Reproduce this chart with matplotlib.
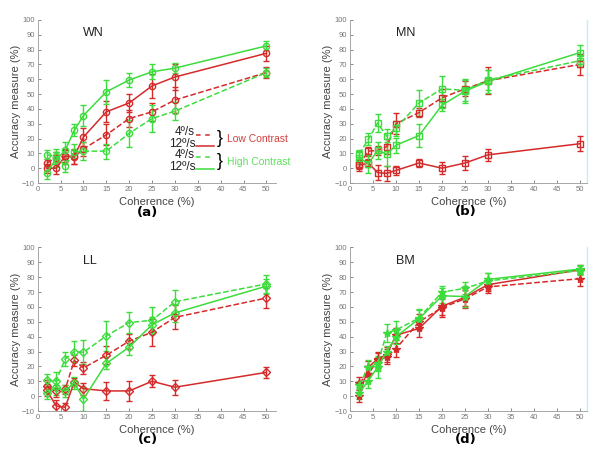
import numpy as np
import matplotlib
matplotlib.use("Agg")
from matplotlib import pyplot as plt

coh = [2, 4, 6, 8, 10, 15, 20, 25, 30, 50]

# panel (a) WN
wn_low4 = [3.5, 7, 8, 7.5, 13, 22.5, 33.5, 38, 46, 64.5]
wn_low4_err = [3, 4, 5, 5, 5, 7, 6, 6, 9, 4]
wn_low12 = [0, 0, 8, 8, 21, 38, 44, 55.5, 61.5, 77.5]
wn_low12_err = [3, 4, 4, 5, 6, 7, 6, 8, 9, 5]
wn_high4 = [9, 8, 1.5, 11, 11.5, 11.5, 23.5, 33.5, 38.5, 64.5]
wn_high4_err = [3, 5, 4, 5, 6, 5, 9, 9, 6, 3]
wn_high12 = [-3, 6, 12, 25.5, 35.5, 51.5, 59.5, 65, 67.5, 82.5]
wn_high12_err = [4, 5, 6, 4, 7, 8, 5, 5, 3.5, 3]

# panel (b) MN
mn_low4 = [2.5, 11.5, 12, 14.5, 30, 37.5, 47.5, 53.5, 59, 70]
mn_low4_err = [3, 3, 3, 5, 7, 3, 6, 5, 9, 7]
mn_low12 = [2, 3.5, -3, -3.5, -1.5, 3.5, 0, 3.5, 9, 16.5]
mn_low12_err = [4, 3, 5, 5, 3, 3, 4, 5, 4, 5]
mn_high4 = [9.5, 19.5, 30.5, 21.5, 27, 44, 53.5, 52.5, 59.5, 72.5]
mn_high4_err = [3, 4, 6, 5, 5, 9, 9, 7, 7, 4]
mn_high12 = [7, 3, 12, 9.5, 15.5, 22, 42.5, 52, 58.5, 78]
mn_high12_err = [4, 6, 6, 8, 5, 8, 4, 8, 8, 5]

# panel (c) LL
ll_low4 = [7, 3.5, 4.5, 24, 19, 27.5, 37, 43, 53, 66]
ll_low4_err = [4, 4, 3, 4, 4, 6, 5, 9, 8, 7]
ll_low12 = [4, -6.5, -7.5, 9.5, 5, 3.5, 3.5, 10, 6, 16]
ll_low12_err = [4, 4, 3, 3, 4, 6, 7, 4, 5, 3.5]
ll_high4 = [11, 10, 25, 30, 29.5, 40.5, 49.5, 51, 63.5, 75.5]
ll_high4_err = [4, 6, 5, 7, 8, 10, 7, 9, 8, 6]
ll_high12 = [2, 6, 3.5, 9, -2, 22, 33, 48, 56, 74]
ll_high12_err = [4, 5, 4, 4, 8, 4, 5, 5, 6, 5]

# panel (d) BM
bm_low4 = [9, 15, 24, 26.5, 32, 50, 59.5, 65.5, 73.5, 79]
bm_low4_err = [4, 5, 5, 5, 6, 5, 6, 6, 4, 5]
bm_low12 = [0, 19.5, 25, 28, 41, 45.5, 60.5, 66.5, 75, 85]
bm_low12_err = [4, 4, 5, 5, 5, 6, 6, 6, 4, 3]
bm_high4 = [7.5, 19.5, 22, 42.5, 44.5, 52.5, 70, 72.5, 77.5, 84.5]
bm_high4_err = [3, 5, 5, 6, 6, 6, 4, 4, 5, 3]
bm_high12 = [2, 10.5, 19.5, 30, 40, 52, 67.5, 67, 78.5, 85.5]
bm_high12_err = [4, 5, 7, 4, 5, 6, 5, 7, 4, 3]

red = '#d42a2a'
green = '#3ddc3d'
narrow = ['Liberation Sans Narrow', 'Liberation Sans', 'DejaVu Sans']

fig = plt.figure()
fig.set_size_inches(6, 4.53)

panels = [
    ("WN", "(a)", 'o', [0.0628, 0.596, 0.398, 0.36], 52.2, (148, 213),
     [wn_low4, wn_low12, wn_high4, wn_high12],
     [wn_low4_err, wn_low12_err, wn_high4_err, wn_high12_err]),
    ("MN", "(b)", 's', [0.5833, 0.596, 0.395, 0.36], 51.5, (466, 212),
     [mn_low4, mn_low12, mn_high4, mn_high12],
     [mn_low4_err, mn_low12_err, mn_high4_err, mn_high12_err]),
    ("LL", "(c)", 'D', [0.0628, 0.0927, 0.398, 0.361], 52.2, (148, 440),
     [ll_low4, ll_low12, ll_high4, ll_high12],
     [ll_low4_err, ll_low12_err, ll_high4_err, ll_high12_err]),
    ("BM", "(d)", '*', [0.5833, 0.0927, 0.395, 0.361], 51.5, (466, 440),
     [bm_low4, bm_low12, bm_high4, bm_high12],
     [bm_low4_err, bm_low12_err, bm_high4_err, bm_high12_err]),
]

styles = [(red, '--'), (red, '-'), (green, '--'), (green, '-')]

for name, tag, mk, pos, xmax, tagpos, ys, errs in panels:
    ax = fig.add_axes(pos)
    for (col, ls), y, e in zip(styles, ys, errs):
        ms = 4.5
        if mk == 'D':
            ms = 4
        if mk == '*':
            ms = 6
        ax.errorbar(coh, y, yerr=e, color=col, ls=ls, lw=1.1, marker=mk,
                    ms=ms, mfc='none' if mk != '*' else col, mec=col, mew=1,
                    capsize=2, elinewidth=1)
    ax.set_xlim(0, xmax)
    ax.set_ylim(-10, 100)
    ax.set_xticks(np.arange(0, 55, 5))
    ax.set_yticks(np.arange(-10, 110, 10))
    ax.tick_params(direction='in', length=2, labelsize=5.5, colors='#777777',
                   width=0.6, pad=2)
    for lab in ax.get_xticklabels() + ax.get_yticklabels():
        lab.set_family(narrow)
    ax.spines['top'].set_visible(False)
    if tag in ("(b)", "(d)"):
        ax.spines['right'].set_color('#bff3f3')
        ax.spines['right'].set_linewidth(1)
    else:
        ax.spines['right'].set_visible(False)
    for s in ['left', 'bottom']:
        ax.spines[s].set_color('#999999')
        ax.spines[s].set_linewidth(0.6)
    ax.set_xlabel("Coherence (%)", fontsize=8, color='#444444', labelpad=3,
                  family=narrow)
    ax.set_ylabel("Accuracy measure (%)", fontsize=8, color='#444444',
                  labelpad=1, family=narrow)
    ax.text(10, 91, name, fontsize=9, color='#222222', va='center',
            family=['Liberation Sans', 'DejaVu Sans'])
    fig.text(tagpos[0] / 600, 1 - tagpos[1] / 453, tag, fontsize=9.5,
             fontweight='bold', ha='center', va='center')

    if tag == "(a)":
        # hand made legend
        for ty, lab, col, ls in [(24.2, '4º/s', red, '--'),
                                 (16.3, '12º/s', red, '-'),
                                 (8.9, '4º/s', green, '--'),
                                 (1.0, '12º/s', green, '-')]:
            ax.text(34.4, ty, lab, fontsize=8.5, ha='right', va='center',
                    color='#222222', family=narrow)
            ax.plot([34.6, 38.6], [ty - 1.5, ty - 1.5], color=col, ls=ls,
                    lw=1.1, dashes=(3, 3) if ls == '--' else (None, None))
        ax.text(39.7, 19.8, '}', fontsize=13, ha='center', va='center',
                family=['Liberation Sans', 'DejaVu Sans'])
        ax.text(39.7, 4.6, '}', fontsize=13, ha='center', va='center',
                family=['Liberation Sans', 'DejaVu Sans'])
        ax.text(41.3, 19.5, 'Low Contrast', fontsize=7.5, color='#d04040',
                va='center', clip_on=False, family=narrow)
        ax.text(41.3, 4, 'High Contrast', fontsize=7.5, color='#5fe05f',
                va='center', clip_on=False, family=narrow)

plt.savefig('out.png', dpi=100)
